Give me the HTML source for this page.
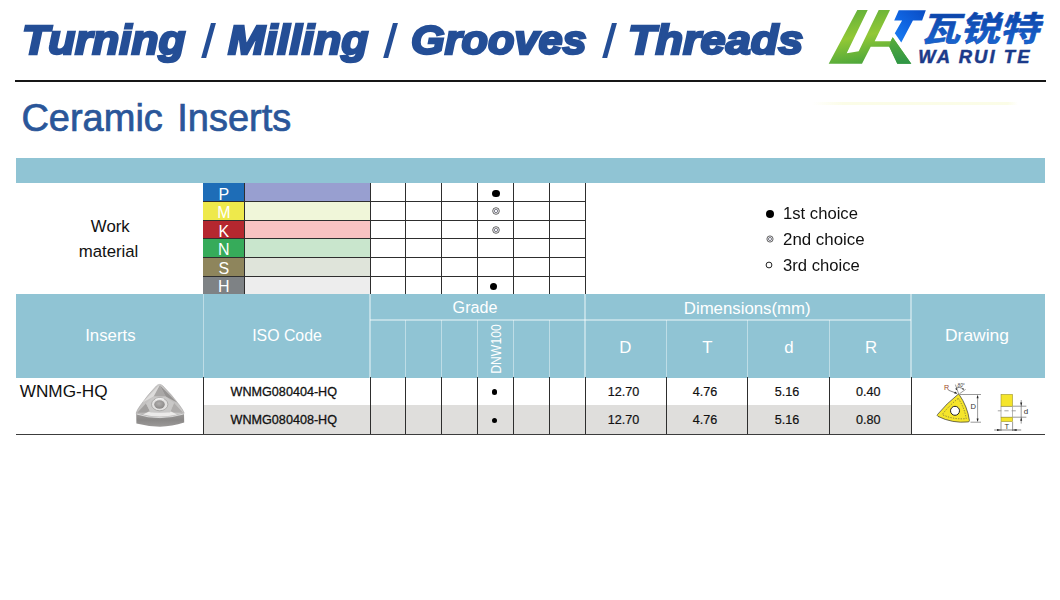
<!DOCTYPE html>
<html><head><meta charset="utf-8"><title>Ceramic Inserts</title>
<style>
*{margin:0;padding:0;box-sizing:border-box}
html,body{width:1060px;height:600px;background:#fff;overflow:hidden}
body{position:relative;font-family:"Liberation Sans",sans-serif;color:#111}
.abs{position:absolute}
.tx{white-space:nowrap}
.tw{position:absolute;top:15.3px;font-weight:bold;font-style:italic;font-size:41.3px;line-height:50px;color:#244e96;white-space:nowrap;transform-origin:0 0;-webkit-text-stroke:2.5px #244e96}
.sl{position:absolute;top:22.6px;width:5.1px;height:35.4px;background:#244e96;transform:skewX(-15.6deg)}
#hr{position:absolute;left:15px;top:80.4px;width:1030.5px;height:2px;background:#161616}
#sub{position:absolute;left:21.4px;top:94.8px;font-size:38px;line-height:46px;color:#2a5699;white-space:nowrap;word-spacing:3.8px;-webkit-text-stroke:0.7px #2a5699}
</style></head><body>
<div id="title"><span class="tw" style="left:21.8px;transform:scaleX(1.068)">Turning</span><span class="tw" style="left:228.2px;transform:scaleX(1.073)">Milling</span><span class="tw" style="left:410.9px;transform:scaleX(1.048)">Grooves</span><span class="tw" style="left:627.6px;transform:scaleX(1.091)">Threads</span><i class="sl" style="left:205.8px"></i><i class="sl" style="left:388.4px"></i><i class="sl" style="left:607.2px"></i></div>
<div id="hr"></div>
<div id="sub">Ceramic Inserts</div>
<svg class="abs" style="left:820px;top:0px" width="240" height="75" viewBox="820 0 240 75">
<defs>
<linearGradient id="gg" x1="0.2" y1="0" x2="0.5" y2="1"><stop offset="0" stop-color="#62b03a"/><stop offset="0.5" stop-color="#92c835"/><stop offset="1" stop-color="#48a43b"/></linearGradient>
<linearGradient id="gd" x1="0" y1="0" x2="0" y2="1"><stop offset="0" stop-color="#5aad3a"/><stop offset="1" stop-color="#2e9546"/></linearGradient>
<linearGradient id="gb" x1="0" y1="1" x2="1" y2="0"><stop offset="0" stop-color="#1a80f4"/><stop offset="0.5" stop-color="#0f63e0"/><stop offset="1" stop-color="#0b4cc2"/></linearGradient>
<linearGradient id="gc" x1="0" y1="1" x2="0" y2="0"><stop offset="0" stop-color="#1a6ad6"/><stop offset="1" stop-color="#0c41a4"/></linearGradient>
</defs>
<polygon fill="url(#gg)" points="857.3,10 867.7,10 846.7,53.3 858.7,51.3 878.7,10 890,10 874.7,41.3 890.7,41.3 892.7,37.3 911.3,63.7 897.3,63.7 889.3,46.7 870.7,46.7 862,63.7 828.7,63.7"/>
<polygon fill="url(#gd)" points="892.7,37.3 911.3,63.7 897.3,63.7 889.3,46.7 890.7,41.3"/>
<polygon fill="url(#gb)" points="898.75,10.3 925.8,10.3 922.1,20.4 912.9,20.4 901.25,42.5 894.8,33.3 902.1,20.4 894.2,20.4"/>
<text transform="translate(920.8,41.4) skewX(-15) scale(1.158,1)" x="0" y="0" font-family="'Liberation Sans', 'Noto Sans CJK SC', sans-serif" font-weight="bold" font-size="34.1" fill="url(#gc)" stroke="#1150b8" stroke-width="0.6" stroke-linejoin="round">瓦锐特</text>
<text x="918.3" y="63.3" font-family="Liberation Sans, sans-serif" font-weight="bold" font-style="italic" font-size="18.4" letter-spacing="2.1" fill="#1b3a8a" stroke="#1b3a8a" stroke-width="0.5">WA RUI TE</text>
</svg>
<div class="abs" style="left:812px;top:101.5px;width:206px;height:3px;background:linear-gradient(90deg,rgba(250,252,228,0),rgba(250,252,225,.8) 15%,rgba(250,252,225,.8) 95%,rgba(250,252,228,0))"></div>
<div class="abs" style="left:15.5px;top:157.5px;width:1029.3px;height:25.5px;background:#90c4d4;"></div>
<div class="abs" style="left:15.5px;top:294.3px;width:1029.3px;height:83.5px;background:#90c4d4;"></div>
<div class="abs" style="left:203.2px;top:405.2px;width:707.8px;height:29.2px;background:#dfdedc;"></div>
<div class="abs" style="left:203.2px;top:183.0px;width:41.2px;height:18.5px;background:#1e6db7;"></div>
<div class="abs" style="left:244.4px;top:183.0px;width:125.6px;height:18.5px;background:#989fd0;"></div>
<div class="abs" style="left:203.2px;top:201.5px;width:41.2px;height:18.7px;background:#eee94b;"></div>
<div class="abs" style="left:244.4px;top:201.5px;width:125.6px;height:18.7px;background:#f0f6d9;"></div>
<div class="abs" style="left:203.2px;top:220.2px;width:41.2px;height:18.7px;background:#b5272f;"></div>
<div class="abs" style="left:244.4px;top:220.2px;width:125.6px;height:18.7px;background:#f9c2c2;"></div>
<div class="abs" style="left:203.2px;top:238.9px;width:41.2px;height:18.6px;background:#36ab5a;"></div>
<div class="abs" style="left:244.4px;top:238.9px;width:125.6px;height:18.6px;background:#c9e6cd;"></div>
<div class="abs" style="left:203.2px;top:257.5px;width:41.2px;height:18.6px;background:#8e855c;"></div>
<div class="abs" style="left:244.4px;top:257.5px;width:125.6px;height:18.6px;background:#dfe4da;"></div>
<div class="abs" style="left:203.2px;top:276.1px;width:41.2px;height:18.2px;background:#7e8285;"></div>
<div class="abs" style="left:244.4px;top:276.1px;width:125.6px;height:18.2px;background:#ededed;"></div>
<div class="abs" style="left:203.2px;top:201.00px;width:381.8px;height:1.0px;background:#2e2e2e"></div>
<div class="abs" style="left:203.2px;top:219.70px;width:381.8px;height:1.0px;background:#2e2e2e"></div>
<div class="abs" style="left:203.2px;top:238.40px;width:381.8px;height:1.0px;background:#2e2e2e"></div>
<div class="abs" style="left:203.2px;top:257.00px;width:381.8px;height:1.0px;background:#2e2e2e"></div>
<div class="abs" style="left:203.2px;top:275.60px;width:381.8px;height:1.0px;background:#2e2e2e"></div>
<div class="abs" style="left:243.90px;top:183.0px;width:1.0px;height:111.3px;background:#2e2e2e"></div>
<div class="abs" style="left:369.50px;top:183.0px;width:1.0px;height:111.3px;background:#2e2e2e"></div>
<div class="abs" style="left:405.30px;top:183.0px;width:1.0px;height:111.3px;background:#2e2e2e"></div>
<div class="abs" style="left:441.20px;top:183.0px;width:1.0px;height:111.3px;background:#2e2e2e"></div>
<div class="abs" style="left:477.10px;top:183.0px;width:1.0px;height:111.3px;background:#2e2e2e"></div>
<div class="abs" style="left:512.80px;top:183.0px;width:1.0px;height:111.3px;background:#2e2e2e"></div>
<div class="abs" style="left:548.80px;top:183.0px;width:1.0px;height:111.3px;background:#2e2e2e"></div>
<div class="abs" style="left:584.50px;top:183.0px;width:1.0px;height:111.3px;background:#2e2e2e"></div>
<div class="abs" style="left:202.60px;top:294.3px;width:1.2px;height:83.5px;background:rgba(255,255,255,.42)"></div>
<div class="abs" style="left:369.40px;top:294.3px;width:1.2px;height:83.5px;background:rgba(255,255,255,.42)"></div>
<div class="abs" style="left:405.20px;top:320.0px;width:1.2px;height:57.8px;background:rgba(255,255,255,.42)"></div>
<div class="abs" style="left:441.10px;top:320.0px;width:1.2px;height:57.8px;background:rgba(255,255,255,.42)"></div>
<div class="abs" style="left:477.00px;top:320.0px;width:1.2px;height:57.8px;background:rgba(255,255,255,.42)"></div>
<div class="abs" style="left:512.70px;top:320.0px;width:1.2px;height:57.8px;background:rgba(255,255,255,.42)"></div>
<div class="abs" style="left:548.70px;top:320.0px;width:1.2px;height:57.8px;background:rgba(255,255,255,.42)"></div>
<div class="abs" style="left:584.40px;top:294.3px;width:1.2px;height:83.5px;background:rgba(255,255,255,.42)"></div>
<div class="abs" style="left:665.70px;top:320.0px;width:1.2px;height:57.8px;background:rgba(255,255,255,.42)"></div>
<div class="abs" style="left:747.30px;top:320.0px;width:1.2px;height:57.8px;background:rgba(255,255,255,.42)"></div>
<div class="abs" style="left:828.90px;top:320.0px;width:1.2px;height:57.8px;background:rgba(255,255,255,.42)"></div>
<div class="abs" style="left:910.40px;top:294.3px;width:1.2px;height:83.5px;background:rgba(255,255,255,.42)"></div>
<div class="abs" style="left:370.0px;top:319.40px;width:541.0px;height:1.2px;background:rgba(255,255,255,.42)"></div>
<div class="abs" style="left:202.70px;top:377.2px;width:1.0px;height:57.2px;background:#2e2e2e"></div>
<div class="abs" style="left:369.50px;top:377.2px;width:1.0px;height:57.2px;background:#2e2e2e"></div>
<div class="abs" style="left:405.30px;top:377.2px;width:1.0px;height:57.2px;background:#2e2e2e"></div>
<div class="abs" style="left:441.20px;top:377.2px;width:1.0px;height:57.2px;background:#2e2e2e"></div>
<div class="abs" style="left:477.10px;top:377.2px;width:1.0px;height:57.2px;background:#2e2e2e"></div>
<div class="abs" style="left:512.80px;top:377.2px;width:1.0px;height:57.2px;background:#2e2e2e"></div>
<div class="abs" style="left:548.80px;top:377.2px;width:1.0px;height:57.2px;background:#2e2e2e"></div>
<div class="abs" style="left:584.50px;top:377.2px;width:1.0px;height:57.2px;background:#2e2e2e"></div>
<div class="abs" style="left:665.80px;top:377.2px;width:1.0px;height:57.2px;background:#2e2e2e"></div>
<div class="abs" style="left:747.40px;top:377.2px;width:1.0px;height:57.2px;background:#2e2e2e"></div>
<div class="abs" style="left:829.00px;top:377.2px;width:1.0px;height:57.2px;background:#2e2e2e"></div>
<div class="abs" style="left:910.50px;top:377.2px;width:1.0px;height:57.2px;background:#2e2e2e"></div>
<div class="abs" style="left:15.5px;top:433.90px;width:1029.3px;height:1.0px;background:#3c3c3c"></div>
<div class="abs tx" style="left:110.3px;top:218.88px;font-size:16.8px;line-height:16.8px;color:#111;font-weight:normal;font-style:normal;letter-spacing:0px;transform:translateX(-50%) scaleX(1.0);transform-origin:50% 50%;">Work</div>
<div class="abs tx" style="left:108.5px;top:243.88px;font-size:16.8px;line-height:16.8px;color:#111;font-weight:normal;font-style:normal;letter-spacing:0px;transform:translateX(-50%) scaleX(1.0);transform-origin:50% 50%;">material</div>
<div class="abs tx" style="left:223.9px;top:186.51px;font-size:16.0px;line-height:16.0px;color:#fff;font-weight:normal;font-style:normal;letter-spacing:0px;transform:translateX(-50%) scaleX(1.0);transform-origin:50% 50%;">P</div>
<div class="abs tx" style="left:223.9px;top:205.11px;font-size:16.0px;line-height:16.0px;color:#fff;font-weight:normal;font-style:normal;letter-spacing:0px;transform:translateX(-50%) scaleX(1.0);transform-origin:50% 50%;">M</div>
<div class="abs tx" style="left:223.9px;top:223.81px;font-size:16.0px;line-height:16.0px;color:#fff;font-weight:normal;font-style:normal;letter-spacing:0px;transform:translateX(-50%) scaleX(1.0);transform-origin:50% 50%;">K</div>
<div class="abs tx" style="left:223.9px;top:242.46px;font-size:16.0px;line-height:16.0px;color:#fff;font-weight:normal;font-style:normal;letter-spacing:0px;transform:translateX(-50%) scaleX(1.0);transform-origin:50% 50%;">N</div>
<div class="abs tx" style="left:223.9px;top:261.06px;font-size:16.0px;line-height:16.0px;color:#fff;font-weight:normal;font-style:normal;letter-spacing:0px;transform:translateX(-50%) scaleX(1.0);transform-origin:50% 50%;">S</div>
<div class="abs tx" style="left:223.9px;top:279.46px;font-size:16.0px;line-height:16.0px;color:#fff;font-weight:normal;font-style:normal;letter-spacing:0px;transform:translateX(-50%) scaleX(1.0);transform-origin:50% 50%;">H</div>
<div class="abs tx" style="left:110.4px;top:328.18px;font-size:16.8px;line-height:16.8px;color:#fff;font-weight:normal;font-style:normal;letter-spacing:0px;transform:translateX(-50%) scaleX(1.0);transform-origin:50% 50%;">Inserts</div>
<div class="abs tx" style="left:286.5px;top:328.18px;font-size:16.8px;line-height:16.8px;color:#fff;font-weight:normal;font-style:normal;letter-spacing:0px;transform:translateX(-50%) scaleX(0.945);transform-origin:50% 50%;">ISO Code</div>
<div class="abs tx" style="left:475.4px;top:299.88px;font-size:16.8px;line-height:16.8px;color:#fff;font-weight:normal;font-style:normal;letter-spacing:0px;transform:translateX(-50%) scaleX(0.96);transform-origin:50% 50%;">Grade</div>
<div class="abs tx" style="left:747.2px;top:300.88px;font-size:16.8px;line-height:16.8px;color:#fff;font-weight:normal;font-style:normal;letter-spacing:0px;transform:translateX(-50%) scaleX(1.0);transform-origin:50% 50%;">Dimensions(mm)</div>
<div class="abs tx" style="left:625.2px;top:340.08px;font-size:16.8px;line-height:16.8px;color:#fff;font-weight:normal;font-style:normal;letter-spacing:0px;transform:translateX(-50%) scaleX(1.0);transform-origin:50% 50%;">D</div>
<div class="abs tx" style="left:707.3px;top:340.08px;font-size:16.8px;line-height:16.8px;color:#fff;font-weight:normal;font-style:normal;letter-spacing:0px;transform:translateX(-50%) scaleX(1.0);transform-origin:50% 50%;">T</div>
<div class="abs tx" style="left:788.8px;top:340.08px;font-size:16.8px;line-height:16.8px;color:#fff;font-weight:normal;font-style:normal;letter-spacing:0px;transform:translateX(-50%) scaleX(1.0);transform-origin:50% 50%;">d</div>
<div class="abs tx" style="left:871.0px;top:340.08px;font-size:16.8px;line-height:16.8px;color:#fff;font-weight:normal;font-style:normal;letter-spacing:0px;transform:translateX(-50%) scaleX(1.0);transform-origin:50% 50%;">R</div>
<div class="abs tx" style="left:976.7px;top:327.88px;font-size:16.8px;line-height:16.8px;color:#fff;font-weight:normal;font-style:normal;letter-spacing:0px;transform:translateX(-50%) scaleX(1.04);transform-origin:50% 50%;">Drawing</div>
<div class="abs tx" style="left:495.6px;top:349.4px;font-size:14.4px;line-height:15px;color:#fff;letter-spacing:0px;transform:translate(-50%,-50%) rotate(-90deg) scaleX(0.85)">DNW100</div>
<div class="abs tx" style="left:19.7px;top:382.54px;font-size:17.2px;line-height:17.2px;color:#111;font-weight:normal;font-style:normal;letter-spacing:0px;transform:scaleX(1.0);transform-origin:0 50%;">WNMG-HQ</div>
<div class="abs tx" style="left:283.8px;top:386.43px;font-size:12.6px;line-height:12.6px;color:#111;font-weight:normal;font-style:normal;letter-spacing:0px;transform:translateX(-50%) scaleX(1.0);transform-origin:50% 50%;-webkit-text-stroke:0.3px #111;">WNMG080404-HQ</div>
<div class="abs tx" style="left:623.5px;top:386.43px;font-size:12.6px;line-height:12.6px;color:#111;font-weight:normal;font-style:normal;letter-spacing:0px;transform:translateX(-50%) scaleX(1.0);transform-origin:50% 50%;-webkit-text-stroke:0.2px #111;">12.70</div>
<div class="abs tx" style="left:705.1px;top:386.43px;font-size:12.6px;line-height:12.6px;color:#111;font-weight:normal;font-style:normal;letter-spacing:0px;transform:translateX(-50%) scaleX(1.0);transform-origin:50% 50%;-webkit-text-stroke:0.2px #111;">4.76</div>
<div class="abs tx" style="left:787.0px;top:386.43px;font-size:12.6px;line-height:12.6px;color:#111;font-weight:normal;font-style:normal;letter-spacing:0px;transform:translateX(-50%) scaleX(1.0);transform-origin:50% 50%;-webkit-text-stroke:0.2px #111;">5.16</div>
<div class="abs tx" style="left:868.2px;top:386.43px;font-size:12.6px;line-height:12.6px;color:#111;font-weight:normal;font-style:normal;letter-spacing:0px;transform:translateX(-50%) scaleX(1.0);transform-origin:50% 50%;-webkit-text-stroke:0.2px #111;">0.40</div>
<div class="abs tx" style="left:283.8px;top:414.33px;font-size:12.6px;line-height:12.6px;color:#111;font-weight:normal;font-style:normal;letter-spacing:0px;transform:translateX(-50%) scaleX(1.0);transform-origin:50% 50%;-webkit-text-stroke:0.3px #111;">WNMG080408-HQ</div>
<div class="abs tx" style="left:623.5px;top:414.33px;font-size:12.6px;line-height:12.6px;color:#111;font-weight:normal;font-style:normal;letter-spacing:0px;transform:translateX(-50%) scaleX(1.0);transform-origin:50% 50%;-webkit-text-stroke:0.2px #111;">12.70</div>
<div class="abs tx" style="left:705.1px;top:414.33px;font-size:12.6px;line-height:12.6px;color:#111;font-weight:normal;font-style:normal;letter-spacing:0px;transform:translateX(-50%) scaleX(1.0);transform-origin:50% 50%;-webkit-text-stroke:0.2px #111;">4.76</div>
<div class="abs tx" style="left:787.0px;top:414.33px;font-size:12.6px;line-height:12.6px;color:#111;font-weight:normal;font-style:normal;letter-spacing:0px;transform:translateX(-50%) scaleX(1.0);transform-origin:50% 50%;-webkit-text-stroke:0.2px #111;">5.16</div>
<div class="abs tx" style="left:868.2px;top:414.33px;font-size:12.6px;line-height:12.6px;color:#111;font-weight:normal;font-style:normal;letter-spacing:0px;transform:translateX(-50%) scaleX(1.0);transform-origin:50% 50%;-webkit-text-stroke:0.2px #111;">0.80</div>
<div class="abs" style="left:765.80px;top:210.10px;width:8.2px;height:8.2px;border-radius:50%;background:#000"></div>
<svg class="abs" style="left:764.80px;top:233.50px" width="10" height="10" viewBox="-5 -5 10 10"><circle r="3.10" fill="#fff" stroke="#111" stroke-width="0.65"/><circle r="1.60" fill="#f4f4f8" stroke="#334" stroke-width="0.6"/></svg>
<svg class="abs" style="left:764.40px;top:260.20px" width="10" height="10" viewBox="-5 -5 10 10"><circle r="2.90" fill="#fff" stroke="#222" stroke-width="1"/></svg>
<div class="abs tx" style="left:782.9px;top:205.22px;font-size:16.4px;line-height:16.4px;color:#111;font-weight:normal;font-style:normal;letter-spacing:0px;transform:scaleX(1.015);transform-origin:0 50%;">1st choice</div>
<div class="abs tx" style="left:782.9px;top:230.72px;font-size:16.4px;line-height:16.4px;color:#111;font-weight:normal;font-style:normal;letter-spacing:0px;transform:scaleX(1.03);transform-origin:0 50%;">2nd choice</div>
<div class="abs tx" style="left:782.9px;top:256.62px;font-size:16.4px;line-height:16.4px;color:#111;font-weight:normal;font-style:normal;letter-spacing:0px;transform:scaleX(1.015);transform-origin:0 50%;">3rd choice</div>
<div class="abs" style="left:492.30px;top:190.00px;width:7.4px;height:7.4px;border-radius:50%;background:#000"></div>
<svg class="abs" style="left:490.60px;top:206.10px" width="10" height="10" viewBox="-5 -5 10 10"><circle r="3.30" fill="#fff" stroke="#111" stroke-width="0.65"/><circle r="1.70" fill="#f4f4f8" stroke="#334" stroke-width="0.6"/></svg>
<svg class="abs" style="left:490.60px;top:225.00px" width="10" height="10" viewBox="-5 -5 10 10"><circle r="3.30" fill="#fff" stroke="#111" stroke-width="0.65"/><circle r="1.70" fill="#f4f4f8" stroke="#334" stroke-width="0.6"/></svg>
<div class="abs" style="left:489.90px;top:283.10px;width:7.4px;height:7.4px;border-radius:50%;background:#000"></div>
<div class="abs" style="left:491.80px;top:389.30px;width:5.4px;height:5.4px;border-radius:50%;background:#000"></div>
<div class="abs" style="left:491.80px;top:417.80px;width:5.4px;height:5.4px;border-radius:50%;background:#000"></div>
<svg class="abs" style="left:130px;top:380px" width="62" height="50" viewBox="130 380 62 50">
<defs>
<linearGradient id="ps" x1="0" y1="0" x2="0" y2="1"><stop offset="0" stop-color="#9a9897"/><stop offset="0.5" stop-color="#8a8887"/><stop offset="1" stop-color="#9c9a99"/></linearGradient>
<linearGradient id="pf" x1="0" y1="0" x2="1" y2="1"><stop offset="0" stop-color="#dcdbda"/><stop offset="0.5" stop-color="#bcbab9"/><stop offset="1" stop-color="#cfcecd"/></linearGradient>
<radialGradient id="ph" cx="0.45" cy="0.4" r="0.6"><stop offset="0" stop-color="#b2b0af"/><stop offset="1" stop-color="#8a8887"/></radialGradient>
<filter id="pb" x="-10%" y="-10%" width="120%" height="120%"><feGaussianBlur stdDeviation="0.4"/></filter>
</defs>
<g filter="url(#pb)">
<path d="M136.2,413.4 Q148,417.2 160,417 Q172,416.8 184,413.4 L184.2,422.6 Q172,426.6 160,426.8 Q148,426.6 136.4,423.6 Z" fill="url(#ps)"/>
<path d="M159.6,384.4 Q161.5,384.4 163,386 Q172,395 179,404.5 Q183.5,410.5 184.2,413.2 Q172,417.2 160,417.4 Q148,417.4 136.1,413.4 Q136.8,410 141,404.5 Q148,394.5 156.3,386 Q157.8,384.4 159.6,384.4 Z" fill="url(#pf)" stroke="#9b9998" stroke-width=".5"/>
<path d="M159.6,385.4 L153.6,396.6 L165.8,396.6 Z" fill="#a9a7a6"/>
<path d="M159.6,385 L153.6,396.6 L142.5,402.5 Z" fill="#dddcdb"/>
<path d="M159.6,385 L165.8,396.6 L177,402.5 Z" fill="#959392"/>
<path d="M137.2,412.8 L146,403.5 L150.5,412.5 Z" fill="#a19f9e"/>
<path d="M183.2,412.8 L174,403 L170,412.5 Z" fill="#aeacab"/>
<path d="M143,414.6 Q160,418.4 177,414.4 L171,411.4 Q160,413.6 149,411.6 Z" fill="#efeeed" opacity=".9"/>
<path d="M146,403.5 L150.5,412.5 L170,412.5 L174,403 L165.8,396.6 L153.6,396.6 Z" fill="#c9c8c7"/>
<ellipse cx="159.7" cy="404.3" rx="8.2" ry="6.5" fill="#e3e2e1" stroke="#9a9897" stroke-width=".7"/>
<ellipse cx="159.5" cy="404.5" rx="5.3" ry="4.2" fill="url(#ph)"/>
<path d="M155.4,399.4 Q159.6,397.6 164.2,399.2" stroke="#fafafa" stroke-width="1" fill="none"/>
<path d="M136.6,414 Q148,417.8 160,417.6 Q172,417.4 183.8,414" stroke="#f0f0f0" stroke-width=".7" fill="none"/>
</g>
</svg>

<svg class="abs" style="left:930px;top:380px" width="110" height="54" viewBox="930 380 110 54" font-family="Liberation Sans, sans-serif">
<g fill="none" stroke="#555" stroke-width=".6">
<path d="M959.6,394.5 H981"/><path d="M970.5,422.2 H981"/><path d="M977.6,396 V420.8"/>
<path d="M958.6,393.8 L955.4,384.6"/><path d="M959.4,393.8 L965.6,389.4"/>
<path d="M955.6,388.6 Q959.5,385.8 963.6,389.6" stroke="#333"/>
<path d="M948.4,390.2 L956.8,393.4" stroke="#333"/>
<path d="M1012.8,406.2 H1026.4"/><path d="M1012.8,417.2 H1026.4"/><path d="M1021.2,400 V423.6"/>
<path d="M1001,421.6 V431"/><path d="M1012.6,421.6 V431"/><path d="M994.2,430 H1021.2" stroke="#333"/>
<path d="M997.8,410.8 H1001.4 M1004.4,410.8 H1008.6 M1011.6,410.8 H1015.8" stroke="#666"/>
<rect x="1001" y="406.2" width="11.6" height="11" stroke="#888"/>
</g>
<path d="M959,394.3 Q967.5,406.5 969.4,420.4 Q969.5,421.8 968.2,421.9 Q952.5,423.6 938,416.4 Q936.6,415.6 937.6,414.4 Q946.5,403.5 958,394.4 Q958.5,394 959,394.3 Z" fill="#f5e52b" stroke="#333" stroke-width=".7"/>
<path d="M958.3,398.4 Q964.6,408 966.2,418.6 Q953.5,419.8 942.2,414.6 Q949,405.6 958.3,398.4 Z" fill="none" stroke="#444" stroke-width=".6" stroke-dasharray="1.3 1.3"/>
<circle cx="955" cy="410.8" r="4.5" fill="#fff" stroke="#222" stroke-width="1"/>
<rect x="1001" y="394.4" width="11.6" height="11.8" fill="#f5e52b" stroke="#8a8326" stroke-width=".5"/>
<rect x="1001" y="417.2" width="11.6" height="4.4" fill="#f5e52b" stroke="#8a8326" stroke-width=".5"/>
<g fill="#222">
<path d="M977.6,394.7 l-1,3.6 h2 Z"/><path d="M977.6,422 l-1,-3.6 h2 Z"/>
<path d="M1021.2,406 l-1,-3.4 h2 Z"/><path d="M1021.2,417.4 l-1,3.4 h2 Z"/>
<path d="M1001,430 l-4,-1 v2 Z"/><path d="M1012.6,430 l4,-1 v2 Z"/>
<path d="M957.4,393.6 l-3.2,-.2 l.8,-1.8 Z"/>
<path d="M955.4,388.8 l2,-.2 l-1,1.6 Z"/><path d="M963.8,389.8 l-2,-.8 l1.6,-1 Z"/>
</g>
<text x="944" y="390" font-size="7.2" fill="#9c4a1e">R</text>
<text x="957.6" y="386.6" font-size="4.6" font-style="italic" fill="#333">80°</text>
<text x="970.4" y="409.2" font-size="7.6" fill="#333">D</text>
<text x="1023.8" y="413.6" font-size="8" fill="#333">d</text>
<text x="1004.4" y="429.2" font-size="7.6" fill="#333">T</text>
</svg>

</body></html>
